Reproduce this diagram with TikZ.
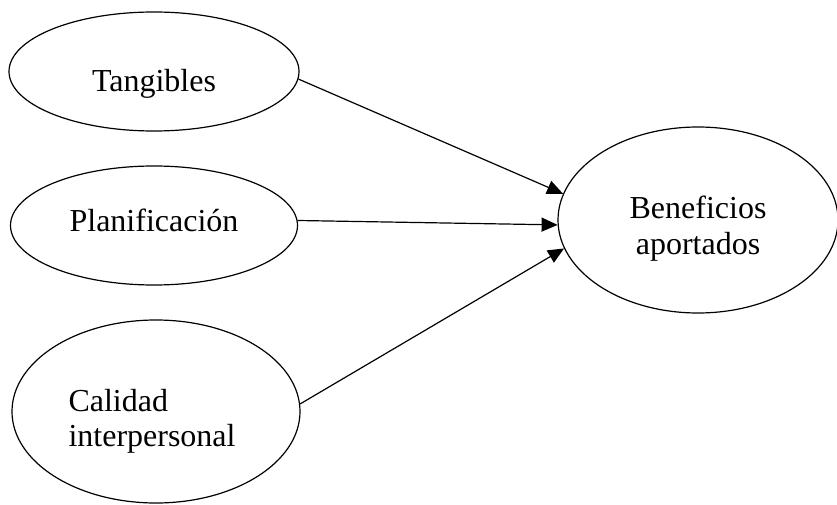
\documentclass[tikz,border=0pt]{standalone}
\usepackage{fontspec}
\setmainfont{Liberation Serif}
\usetikzlibrary{shapes.geometric}
\usetikzlibrary{positioning}
\usetikzlibrary{arrows.meta}
\tikzset{	node distance=154pt,
	latent/.style={
		ellipse,
		draw,
		line width=1.2pt,
		inner sep=0pt,
		font=\fontsize{32}{35}\selectfont},
	every edge/.style={
		draw,
		->, >={Triangle[length=16pt,width=14pt]},
		line width=1.2pt}
}

\begin{document}
\begin{tikzpicture}[x=1pt,y=-1pt]
				\useasboundingbox (0,0) rectangle (837,505);
				\node[latent, minimum width=290pt, minimum height=119pt, text height=40pt, text depth=0pt] (tang) at (154,71.5) {Tangibles};
				\node[latent, below of=tang, minimum width=287pt, minimum height=119pt, text height=22pt, text depth=10pt] (plan) {Planificación};
				\node[latent, below of=plan, node distance=186pt, xshift=2pt, minimum width=288pt, minimum height=183pt, text width=175pt, align=left, text height=22pt, text depth=22pt] (cal) {Calidad\\interpersonal};
				\node[latent, right of=plan, node distance=544pt, yshift=5.5pt, minimum width=280pt, minimum height=186pt, text width=140pt, align=center, text height=22pt, text depth=26pt, font=\fontsize{32}{36}\selectfont] (ben) {Beneficios\\aportados};
				\draw (tang.-3) edge (ben.169);
				\draw (plan.2) edge (ben.-178);
				\draw (cal.3) edge (ben.-168);
			\end{tikzpicture}
\end{document}
